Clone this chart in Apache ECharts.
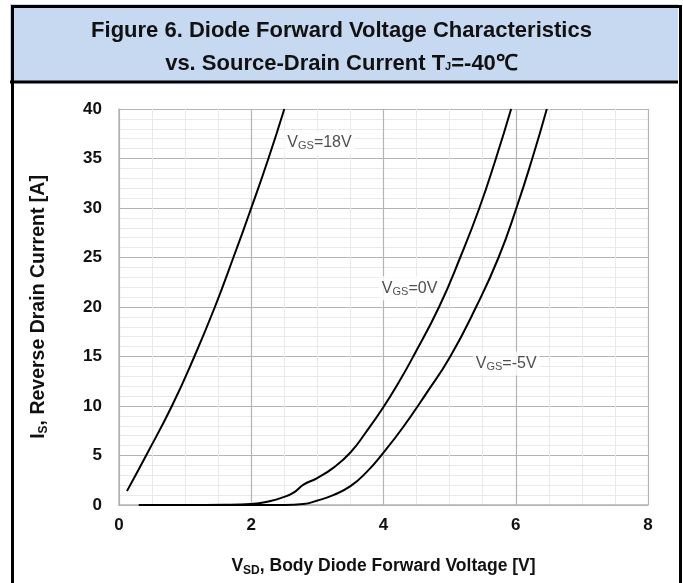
<!DOCTYPE html>
<html>
<head>
<meta charset="utf-8">
<script src="https://cdn.jsdelivr.net/npm/echarts@6/dist/echarts.min.js"></script>
<style>
html, body { margin: 0; padding: 0; background: #fff; }
#chart { width: 683px; height: 583px; }
</style>
</head>
<body>
<div id="chart"></div>
<script>
// curves: [V_SD, I_S]
const vgs18 = [[0.12, 1.4], [0.41, 5], [0.8, 10], [1.14, 15], [1.45, 20], [1.73, 25], [2.0, 30], [2.26, 35], [2.5, 40]]
const vgs0 = [[0.3, 0], [1.0, 0], [1.6, 0.02], [2.0, 0.1], [2.29, 0.4], [2.49, 0.8], [2.64, 1.25], [2.79, 2.05], [2.99, 2.7], [3.24, 3.75], [3.5, 5.3], [3.74, 7.4], [4.0, 9.9], [4.24, 12.5], [4.45, 15], [4.84, 20], [5.16, 25], [5.45, 30], [5.7, 35], [5.93, 40]]
const vgsNeg5 = [[0.3, 0], [1.5, 0], [2.5, 0], [2.79, 0.1], [2.99, 0.43], [3.24, 1.0], [3.5, 1.9], [3.74, 3.3], [4.0, 5.3], [4.29, 7.8], [4.64, 11.2], [5.01, 15], [5.4, 20], [5.74, 25], [6.01, 30], [6.25, 35], [6.47, 40]]

// curve labels: [V, I, text]
const curveLabels = [[2.5, 36.6, '18V'], [3.93, 21.9, '0V'], [5.35, 14.3, '-5V']]

const chart = echarts.init(document.getElementById('chart'))

const font = 'Arial, "Liberation Sans", sans-serif'
const majorColor = '#b4b4b4'
const minorColor = '#e9e9e9'

const curve = (name, data) => ({
    name: name,
    type: 'line',
    data: data,
    smooth: 0.5,
    showSymbol: false,
    silent: true,
    lineStyle: { color: '#000', width: 2 }
})

const option = {
    animation: false,
    backgroundColor: '#fff',
    textStyle: { fontFamily: font },
    graphic: [
        {
            type: 'rect',
            shape: { x: 0, y: 0, width: 668, height: 78 },
            left: 10, top: 4,
            style: { fill: '#c6d9f1', stroke: null },
            z: -10
        },
        {
            type: 'rect',
            shape: { x: 0, y: 0, width: 668, height: 600 },
            left: 10, top: 4,
            style: { fill: null, stroke: '#000', lineWidth: 3 },
            z: 100
        },
        {
            type: 'line',
            shape: { x1: 10, y1: 82, x2: 678, y2: 82 },
            style: { stroke: '#000', lineWidth: 3 },
            z: 100
        }
    ],
    title: {
        left: 'center',
        top: 9,
        text: '{b|Figure 6. Diode Forward Voltage Characteristics}\n{b|vs. Source-Drain Current T}{s|J}{b|=-40℃}',
        textStyle: {
            rich: {
                b: { fontFamily: font, fontWeight: 'bold', fontSize: 22, color: '#111', lineHeight: 33 },
                s: { fontFamily: font, fontWeight: 'bold', fontSize: 11, color: '#111', padding: [6, 0, 0, 0] }
            }
        }
    },
    grid: {
        left: 119,
        right: 35,
        top: 109,
        bottom: 78
    },
    xAxis: {
        type: 'value',
        min: 0,
        max: 8,
        interval: 2,
        name: '{b|V}{s|SD}{b|, Body Diode Forward Voltage [V]}',
        nameLocation: 'middle',
        nameGap: 50,
        nameTextStyle: {
            rich: {
                b: { fontFamily: font, fontWeight: 'bold', fontSize: 17.5, color: '#111', lineHeight: 22 },
                s: { fontFamily: font, fontWeight: 'bold', fontSize: 12, color: '#111', lineHeight: 22, verticalAlign: 'bottom' }
            }
        },
        axisLine: { show: true, lineStyle: { color: majorColor, width: 1.5 } },
        axisTick: { show: false },
        axisLabel: { margin: 12, fontFamily: font, fontWeight: 'bold', fontSize: 17, color: '#111' },
        splitLine: { show: true, lineStyle: { color: majorColor, width: 1.2 } },
        minorTick: { show: false, splitNumber: 4 },
        minorSplitLine: { show: true, lineStyle: { color: minorColor, width: 1 } }
    },
    yAxis: {
        type: 'value',
        min: 0,
        max: 40,
        interval: 5,
        name: '{b|I}{s|S}{b|, Reverse Drain Current [A]}',
        nameLocation: 'middle',
        nameGap: 69,
        nameTextStyle: {
            rich: {
                b: { fontFamily: font, fontWeight: 'bold', fontSize: 19.5, color: '#111', lineHeight: 23 },
                s: { fontFamily: font, fontWeight: 'bold', fontSize: 12, color: '#111', lineHeight: 23, verticalAlign: 'bottom' }
            }
        },
        axisLine: { show: true, lineStyle: { color: majorColor, width: 1.5 } },
        axisTick: { show: false },
        axisLabel: { margin: 17, fontFamily: font, fontWeight: 'bold', fontSize: 17, color: '#111' },
        splitLine: { show: true, lineStyle: { color: majorColor, width: 1.2 } },
        minorTick: { show: false, splitNumber: 5 },
        minorSplitLine: { show: true, lineStyle: { color: minorColor, width: 1 } }
    },
    series: [
        curve('VGS=18V', vgs18),
        curve('VGS=0V', vgs0),
        curve('VGS=-5V', vgsNeg5),
        {
            name: 'labels',
            type: 'scatter',
            data: curveLabels,
            symbolSize: 0,
            silent: true,
            z: 5,
            label: {
                show: true,
                position: 'right',
                distance: 0,
                formatter: (p) => '{v|V}{s|GS}{v|=' + p.data[2] + '}',
                backgroundColor: '#fff',
                padding: [2, 3, 2, 3],
                rich: {
                    v: { fontFamily: font, fontSize: 16, color: '#222', lineHeight: 20 },
                    s: { fontFamily: font, fontSize: 11, color: '#222', padding: [7, 0, 0, 0] }
                }
            }
        }
    ]
}

chart.setOption(option)
</script>
</body>
</html>
